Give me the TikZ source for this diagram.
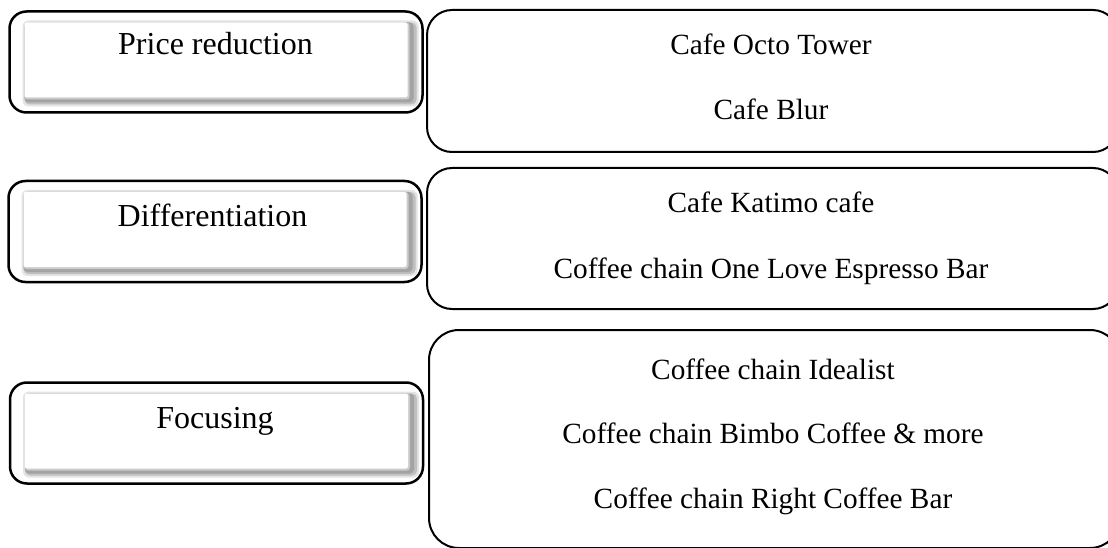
\documentclass[tikz,border=0pt]{standalone}
\usepackage{fontspec}
\setmainfont{Liberation Serif}
\usepackage{tikz}
\usetikzlibrary{positioning}

\begin{document}
\begin{tikzpicture}[
    x=1pt, y=-1pt,
    lbox/.style={draw, line width=2.5pt, rounded corners=17pt, fill=white, minimum width=413pt, minimum height=101pt, inner sep=0pt,
        path picture={
            \fill[gray!22, rounded corners=6pt] ([shift={(13,9)}]path picture bounding box.north west) rectangle ([shift={(-4,-6)}]path picture bounding box.south east);
            \fill[gray!50, rounded corners=5pt] ([shift={(15,11)}]path picture bounding box.north west) rectangle ([shift={(-6,-8)}]path picture bounding box.south east);
            \fill[gray!72, rounded corners=4pt] ([shift={(15,11)}]path picture bounding box.north west) rectangle ([shift={(-9,-10)}]path picture bounding box.south east);
            \fill[gray!40, rounded corners=3pt] ([shift={(15,11)}]path picture bounding box.north west) rectangle ([shift={(-13,-13)}]path picture bounding box.south east);
            \fill[white, rounded corners=2pt] ([shift={(15,11)}]path picture bounding box.north west) rectangle ([shift={(-15,-15)}]path picture bounding box.south east);
        }},
    rbox/.style={draw, line width=2pt, inner sep=0pt, minimum width=691pt},
    ltext/.style={anchor=base, font=\fontsize{32}{38}\selectfont},
    rtext/.style={anchor=base, font=\fontsize{29.3}{35}\selectfont}
]
\useasboundingbox (0,0) rectangle (1108,548);

% Strategy boxes
\node[lbox] (price) at (216,62) {};
\node[lbox] (diff) at (215,231.5) {};
\node[lbox] (focus) at (216.5,433) {};

\node[ltext] (price-t) at (215.5,55) {Price reduction};
\node[ltext] (diff-t) at (212.5,226) {Differentiation};
\node[ltext] (focus-t) at (215,428) {Focusing};

% Example boxes (run past the right edge)
\node[rbox, rounded corners=25pt, minimum height=142pt] (cafes) at (772.5,81) {};
\node[rbox, rounded corners=25pt, minimum height=141pt] (chains) at (772.5,238.5) {};
\node[rbox, rounded corners=30pt, minimum height=218pt] (focused) at (774.5,439) {};

\node[rtext] (octo) at (771,55) {Cafe Octo Tower};
\node[rtext] (blur) at (771,120) {Cafe Blur};
\node[rtext] (katimo) at (771,213) {Cafe Katimo cafe};
\node[rtext] (onelove) at (771,278) {Coffee chain One Love Espresso Bar};
\node[rtext] (idealist) at (773,379) {Coffee chain Idealist};
\node[rtext] (bimbo) at (773,443) {Coffee chain Bimbo Coffee \& more};
\node[rtext] (rightbar) at (773,508) {Coffee chain Right Coffee Bar};

\end{tikzpicture}
\end{document}
